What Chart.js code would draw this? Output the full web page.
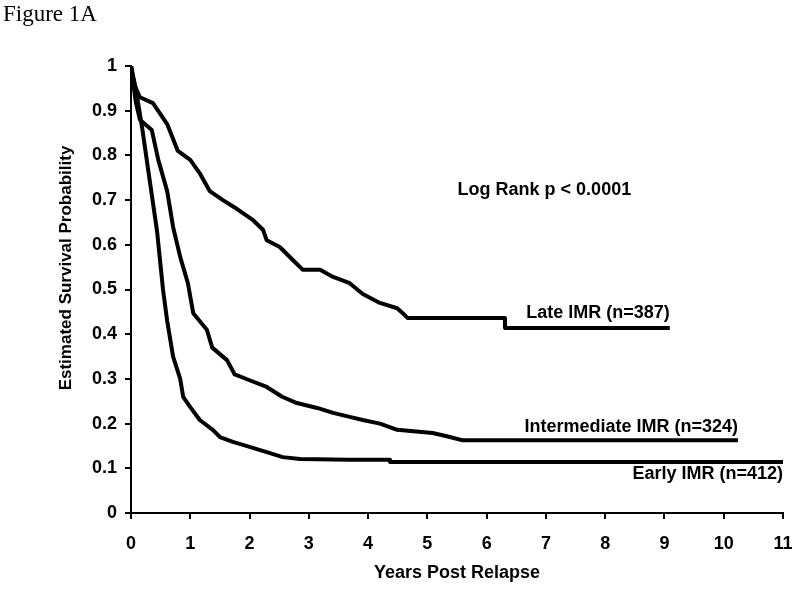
<!DOCTYPE html>
<html>
<head>
<meta charset="utf-8">
<script src="https://cdn.jsdelivr.net/npm/chart.js@4/dist/chart.umd.min.js"></script>
<style>
  html,body{margin:0;padding:0;background:#fff}
  #wrap{position:relative;width:800px;height:593px}
</style>
</head>
<body>
<div id="wrap"><canvas id="km" width="800" height="593"></canvas></div>
<script>
// Kaplan-Meier curves (years post relapse, survival)
const lateYears = [0, 0.05, 0.15, 0.37, 0.61, 0.79, 1.0, 1.16, 1.33, 1.55, 1.79, 2.06, 2.23, 2.29, 2.51, 2.73, 2.9, 3.19, 3.41, 3.69, 3.91, 4.2, 4.49, 4.6, 4.67, 6.31, 6.31, 9.09]
const lateSurv  = [1, 0.96, 0.93, 0.917, 0.87, 0.81, 0.79, 0.76, 0.72, 0.70, 0.68, 0.655, 0.633, 0.61, 0.595, 0.566, 0.544, 0.544, 0.528, 0.514, 0.49, 0.47, 0.458, 0.445, 0.436, 0.436, 0.414, 0.414]

const interYears = [0, 0.08, 0.15, 0.35, 0.46, 0.61, 0.71, 0.83, 0.96, 1.05, 1.28, 1.37, 1.62, 1.75, 2.0, 2.29, 2.55, 2.8, 3.14, 3.41, 3.69, 3.91, 4.2, 4.49, 5.09, 5.38, 5.58, 10.24]
const interSurv  = [1, 0.92, 0.88, 0.857, 0.79, 0.72, 0.64, 0.573, 0.514, 0.447, 0.41, 0.37, 0.342, 0.31, 0.297, 0.282, 0.26, 0.246, 0.235, 0.224, 0.215, 0.208, 0.20, 0.186, 0.179, 0.17, 0.163, 0.163]

const earlyYears = [0, 0.08, 0.19, 0.32, 0.44, 0.54, 0.61, 0.71, 0.83, 0.88, 1.0, 1.16, 1.38, 1.5, 1.72, 2.0, 2.29, 2.56, 2.85, 3.69, 4.37, 4.37, 11]
const earlySurv  = [1, 0.95, 0.86, 0.74, 0.63, 0.5, 0.43, 0.35, 0.30, 0.26, 0.237, 0.208, 0.186, 0.17, 0.159, 0.148, 0.136, 0.125, 0.121, 0.119, 0.119, 0.114, 0.114]

const xTicks = [0,1,2,3,4,5,6,7,8,9,10,11]
const yTicks = [0,0.1,0.2,0.3,0.4,0.5,0.6,0.7,0.8,0.9,1]

// curve labels: text, anchor year (right edge), survival, pixel nudge
const curveLabels = [
  {text:'Late IMR (n=387)', x:9.09, y:0.414, dy:-15},
  {text:'Intermediate IMR (n=324)', x:10.24, y:0.163, dy:-13},
  {text:'Early IMR (n=412)', x:11, y:0.114, dy:12}
]

function pts(xs, ys){
  return xs.map((x,i)=>({x:x, y:ys[i]}))
}
function curve(label, xs, ys){
  return {label:label, data:pts(xs,ys), borderColor:'#000', borderWidth:4,
    pointRadius:0, tension:0, fill:false, borderJoinStyle:'round', borderCapStyle:'butt'}
}

const sans = '"Liberation Sans", Arial, sans-serif'
const boldFont = {family:sans, size:18, weight:'bold'}

const textPlugin = {
  id:'textPlugin',
  afterDraw(chart){
    let ctx = chart.ctx
    let xs = chart.scales.x, ys = chart.scales.y
    ctx.save()
    ctx.fillStyle='#000'
    ctx.font='23px "Liberation Serif", "Times New Roman", serif'
    ctx.textAlign='left'
    ctx.textBaseline='middle'
    ctx.fillText('Figure 1A', 3, 15)

    ctx.font='bold 18px '+sans
    ctx.fillText('Log Rank p < 0.0001', xs.getPixelForValue(5.51), ys.getPixelForValue(0.7226))

    ctx.textAlign='right'
    curveLabels.forEach(l=>{
      ctx.fillText(l.text, xs.getPixelForValue(l.x), ys.getPixelForValue(l.y)+l.dy)
    })

    // y axis title
    ctx.font='bold 17px '+sans
    ctx.textAlign='center'
    ctx.translate(66, 268)
    ctx.rotate(-Math.PI/2)
    ctx.fillText('Estimated Survival Probability', 0, 0)
    ctx.restore()
  }
}

new Chart(document.getElementById('km'), {
  type:'line',
  data:{datasets:[
    curve('Late IMR (n=387)', lateYears, lateSurv),
    curve('Intermediate IMR (n=324)', interYears, interSurv),
    curve('Early IMR (n=412)', earlyYears, earlySurv)
  ]},
  options:{
    responsive:false,
    animation:false,
    layout:{padding:{left:0, top:66, right:17, bottom:0}},
    plugins:{legend:{display:false}, tooltip:{enabled:false}},
    scales:{
      x:{type:'linear', min:0, max:11,
        afterBuildTicks(s){ s.ticks = xTicks.map(v=>({value:v})) },
        afterFit(s){ s.height = 80; s.paddingLeft = 0; s.paddingRight = 0 },
        grid:{drawOnChartArea:false, drawTicks:true, tickLength:6, color:'#000', lineWidth:2},
        border:{color:'#000', width:2},
        ticks:{color:'#000', font:boldFont, padding:14, maxRotation:0},
        title:{display:true, text:'Years Post Relapse', color:'#000', font:boldFont, padding:{bottom:9}}
      },
      y:{type:'linear', min:0, max:1,
        afterBuildTicks(s){ s.ticks = yTicks.map(v=>({value:v})) },
        afterFit(s){ s.width = 131; s.paddingTop = 0; s.paddingBottom = 0 },
        grid:{drawOnChartArea:false, drawTicks:true, tickLength:6, color:'#000', lineWidth:2},
        border:{color:'#000', width:2},
        ticks:{color:'#000', font:boldFont, padding:8, callback:v=>String(v)}
      }
    }
  },
  plugins:[textPlugin]
})
</script>
</body>
</html>
